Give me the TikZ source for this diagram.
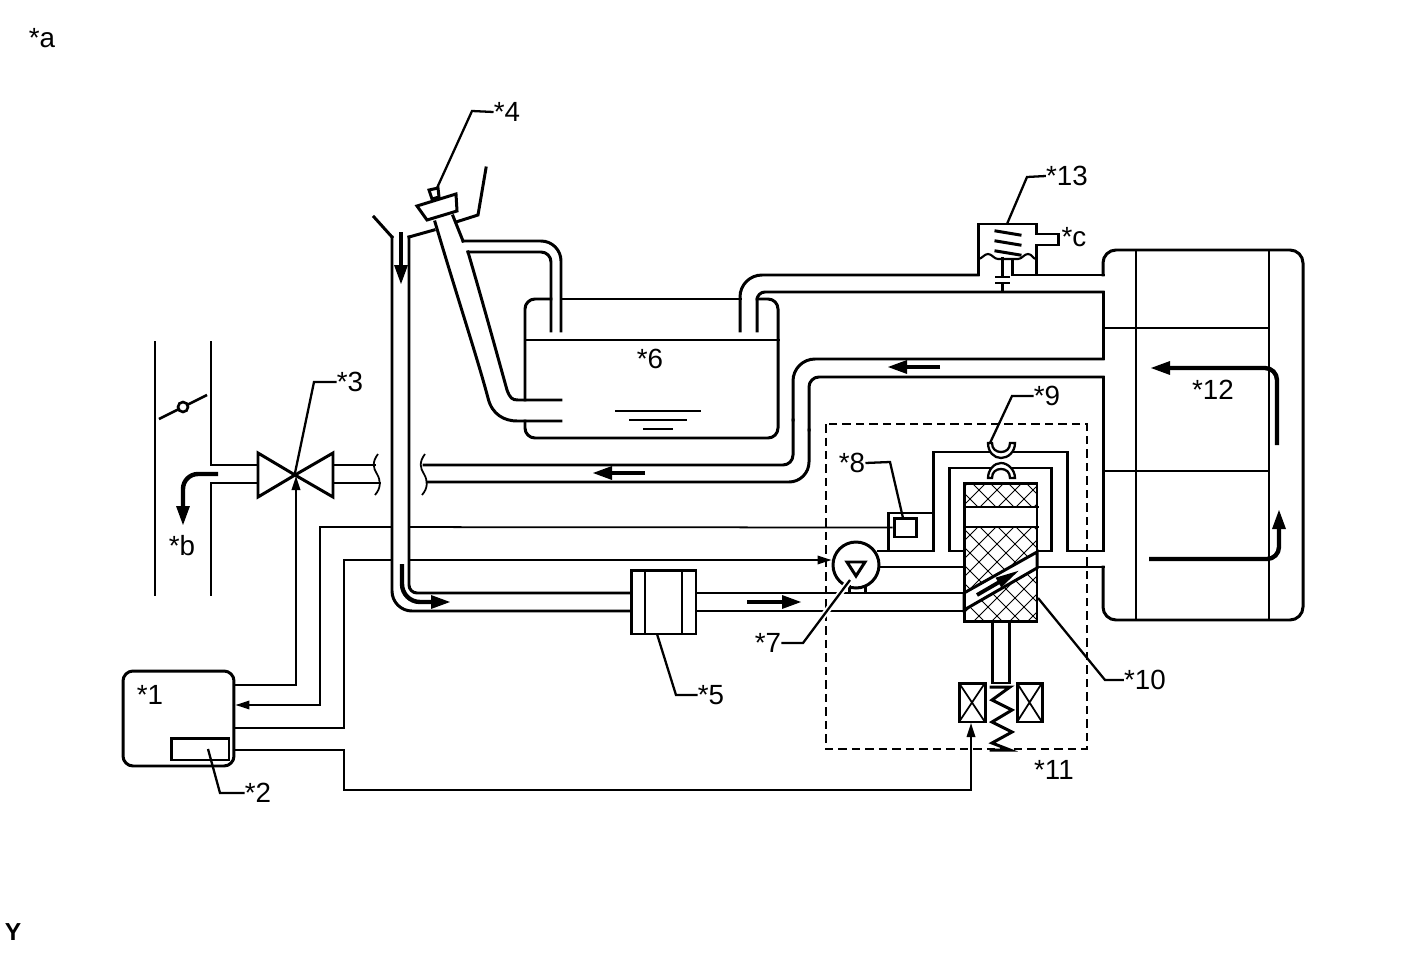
\documentclass[tikz,border=0pt]{standalone}
\usepackage{fontspec}
\setmainfont{Liberation Sans}
\usetikzlibrary{arrows.meta,positioning}

\begin{document}
\begin{tikzpicture}[
    x=0.02cm, y=-0.02cm,
    pipe/.style={line width=1.7pt, line cap=rect},
    thinline/.style={line width=1pt},
    signal/.style={line width=1pt, -{Triangle[length=0.28cm,width=0.17cm]}},
    leader/.style={line width=1.3pt},
    flow/.style={line width=2.5pt, -{Triangle[length=0.4cm,width=0.25cm]}},
    hatchline/.style={line width=0.5pt},
    tag/.style={font=\fontsize{15.8}{18}\selectfont, inner sep=0pt},
    box/.style={draw, line width=1.7pt, inner sep=0pt}
]
    \useasboundingbox (0,0) rectangle (1424,960);

    % Sheet marks
    \node[tag] (sheet) at (42,38) {*a};
    \node[font=\fontsize{14}{16}\selectfont\bfseries, inner sep=0pt] (mark) at (13,932) {Y};

    % Control unit and parts with signal lines
    \node[box, rounded corners=0.2cm, minimum width=2.22cm, minimum height=1.9cm] (ecu) at (178.5,718.5) {};
    \node[box, minimum width=1.16cm, minimum height=0.44cm] (memory) at (200,749) {};
    \node[box, minimum width=0.44cm, minimum height=0.38cm] (sensor) at (905,527.5) {};
    \node[box, circle, minimum size=0.92cm] (pump) at (856,565) {};
    \coordinate (valve) at (296,476);
    \coordinate (coil) at (971,723);

    % Signal lines
    \draw[signal] (ecu.east |- 0,685) -- (296,685) -- (valve);
    \draw[signal] (sensor.west) -- (320,527) -- (320,705) -- (ecu.east |- 0,705);
    \draw[signal] (ecu.east |- 0,728) -- (344,728) -- (344,560) -- (pump.west |- 0,560);
    \draw[signal] (ecu.east |- 0,750) -- (344,750) -- (344,790) -- (971,790) -- (coil);
    \fill[white] (393,500) rectangle (408,585);

    % Intake passage, throttle and purge valve
    \draw[pipe] (155,342) -- (155,595);
    \draw[pipe] (211,342) -- (211,465) -- (258,465);
    \draw[pipe] (211,595) -- (211,483) -- (258,483);
    \draw[line width=1.5pt] (159,419) -- (207,395);
    \node[circle, draw, fill=white, line width=1.5pt, minimum size=0.2cm, inner sep=0pt] (plate) at (183,407) {};
    \draw[pipe] (258,453) -- (258,497) -- (295,475) -- cycle;
    \draw[pipe] (333,453) -- (333,497) -- (295,475) -- cycle;
    \draw[pipe] (333,465) -- (375,465);
    \draw[pipe] (333,483) -- (380,483);
    \draw[thinline] (378,454) .. controls (372,462) and (373,468) .. (377,474) .. controls (381,481) and (381,488) .. (375,495);
    \draw[thinline] (425,454) .. controls (419,462) and (420,468) .. (424,474) .. controls (428,481) and (428,488) .. (422,495);

    % Main fuel pipe and filter
    \draw[pipe] (374,217) -- (392,237);
    \draw[pipe, rounded corners=0.4cm] (392,237) -- (392,611) -- (631,611);
    \draw[pipe, rounded corners=0.16cm] (409,237) -- (409,593) -- (631,593);
    \node[box, minimum width=1.3cm, minimum height=1.28cm] (filter) at (663.5,602) {};
    \draw[thinline] (645,570) -- (645,634);
    \draw[thinline] (682,570) -- (682,634);
    \draw[pipe] (696,593) -- (964,593);
    \draw[pipe] (696,611) -- (964,611);
    \draw[pipe] (849,586) -- (849,593);
    \draw[pipe] (865,586) -- (865,593);

    % Filler neck and cap
    \draw[pipe] (409,237) -- (434,230);
    \draw[pipe] (456,222) -- (478,215) -- (486,168);
    \draw[pipe] (435,222) .. controls (455,290) and (478,360) .. (488,398) .. controls (492,415) and (505,421) .. (517,421) -- (561,421);
    \draw[pipe] (468,252) .. controls (485,310) and (500,365) .. (507,390) .. controls (510,398) and (512,400) .. (518,400) -- (561,400);
    \draw[pipe] (453,216) -- (463,241);
    \draw[pipe, rounded corners=0.4cm] (463,241) -- (561,241) -- (561,331);
    \draw[pipe, rounded corners=0.2cm] (468,252) -- (551,252) -- (551,331);
    \draw[pipe, fill=white] (417,206) -- (456,194) -- (457,211) -- (427,220) -- cycle;
    \draw[pipe, fill=white] (429,190) -- (438,188) -- (439,197) -- (432,199) -- cycle;

    % Tank
    \draw[pipe, rounded corners=0.2cm] (525,400) -- (525,299) -- (551,299);
    \draw[pipe] (561,299) -- (740,299);
    \draw[pipe, rounded corners=0.2cm] (757,299) -- (778,299) -- (778,438) -- (525,438) -- (525,421);
    \draw[pipe] (525,340) -- (778,340);
    \draw[thinline] (615,411) -- (701,411);
    \draw[thinline] (629,420) -- (687,420);
    \draw[thinline] (643,429) -- (673,429);

    % Pipes to the tank and canister
    \draw[pipe, rounded corners=0.44cm] (740,331) -- (740,275) -- (978,275);
    \draw[pipe, rounded corners=0.16cm] (757,331) -- (757,292) -- (1103,292);
    \draw[pipe] (1103,292) -- (1103,359);
    \draw[pipe, rounded corners=0.2cm] (424,465) -- (793,465) -- (793,420);
    \draw[pipe, rounded corners=0.44cm] (793,420) -- (793,359) -- (1103,359);
    \draw[pipe, rounded corners=0.4cm] (428,482) -- (809,482) -- (809,430);
    \draw[pipe, rounded corners=0.2cm] (809,430) -- (809,377) -- (1103,377);

    % Canister
    \draw[pipe, rounded corners=0.26cm] (1103,275) -- (1103,250) -- (1303,250) -- (1303,620) -- (1103,620) -- (1103,567);
    \draw[pipe] (1012,260) -- (1012,275) -- (1103,275);
    \draw[pipe] (1103,567) -- (1037,567);
    \draw[thinline] (1136,250) -- (1136,620);
    \draw[thinline] (1269,250) -- (1269,620);
    \draw[line width=1.3pt] (1103,328) -- (1270,328);
    \draw[line width=1.3pt] (1103,471) -- (1270,471);

    % Vent valve on top of the pipe
    \draw[pipe] (978,275) -- (978,224) -- (1036,224) -- (1036,234) -- (1058,234) -- (1058,245) -- (1036,245) -- (1036,275);
    \draw[line width=1.2pt] (978,259) .. controls (982,259) and (984,254) .. (988,254) .. controls (992,254) and (994,259) .. (998,259) -- (1018,259) .. controls (1022,259) and (1024,254) .. (1028,254) .. controls (1032,254) and (1033,259) .. (1036,259);
    \draw[pipe] (996,231) -- (1020,235);
    \draw[pipe] (996,241) -- (1020,245);
    \draw[pipe] (996,251) -- (1020,255);
    \draw[pipe] (1002,258) -- (1002,277);
    \draw[pipe] (996,277) -- (1008,277);
    \draw[pipe] (996,283) -- (1008,283);
    \draw[pipe] (1002,283) -- (1002,292);

    % Pipes round the pressure control valve
    \draw[pipe] (1103,377) -- (1103,551) -- (1067,551) -- (1067,452) -- (933,452) -- (933,551) -- (878,551);
    \draw[pipe] (888,551) -- (888,513) -- (933,513);
    \draw[pipe] (964,551) -- (949,551) -- (949,468) -- (1051,468) -- (1051,551) -- (1037,551);
    \draw[pipe] (pump.east |- 0,567) -- (964,567);

    % Spool with hatching
    \begin{scope}
        \clip (964,483) rectangle (1037,507);
        \foreach \k in {0,...,13} {
            \draw[hatchline] (810+\k*18,483) -- (950+\k*18,623);
            \draw[hatchline] (810+\k*18,623) -- (950+\k*18,483);
        }
    \end{scope}
    \begin{scope}
        \clip (964,527) rectangle (1037,622);
        \foreach \k in {0,...,13} {
            \draw[hatchline] (810+\k*18,483) -- (950+\k*18,623);
            \draw[hatchline] (810+\k*18,623) -- (950+\k*18,483);
        }
    \end{scope}
    \draw[pipe, fill=white] (964,593) -- (1037,552) -- (1037,568) -- (964,610) -- cycle;
    \node[box, minimum width=1.46cm, minimum height=2.78cm] (spool) at (1000.5,552.5) {};
    \draw[pipe] (964,507) -- (1037,507);
    \draw[pipe] (964,527) -- (1037,527);

    % Solenoid and spring
    \draw[pipe] (992,622) -- (992,683) -- (1009,683) -- (1009,622);
    \node[box, minimum width=0.52cm, minimum height=0.78cm] (coilleft) at (972,702.5) {};
    \node[box, minimum width=0.5cm, minimum height=0.78cm] (coilright) at (1029.5,702.5) {};
    \draw[thinline] (959,683) -- (985,722) (959,722) -- (985,683);
    \draw[thinline] (1017,683) -- (1042,722) (1017,722) -- (1042,683);
    \draw[pipe] (991,687) -- (1010,687) -- (992,700) -- (1012,710) -- (992,722) -- (1012,732) -- (992,743) -- (1010,750) -- (991,750);

    % Inner triangle of the pump
    \draw[pipe] (847,562) -- (865,562) -- (856,576) -- cycle;

    % Orifice
    \draw[line width=1.3pt, fill=white] (988,443) .. controls (988,452) and (994,458) .. (1001,458) .. controls (1008,458) and (1015,452) .. (1015,443) -- (1010,443) .. controls (1010,449) and (1006,452) .. (1001,452) .. controls (996,452) and (992,449) .. (992,443) -- cycle;
    \draw[line width=1.3pt, fill=white] (988,478) .. controls (988,470) and (994,463) .. (1001,463) .. controls (1008,463) and (1015,470) .. (1015,478) -- (1010,478) .. controls (1010,472) and (1006,469) .. (1001,469) .. controls (996,469) and (992,472) .. (992,478) -- cycle;

    % Dashed box
    \draw[line width=1.5pt, dash pattern=on 0.17cm off 0.1cm] (826,424) rectangle (1087,749);

    % Flow arrows
    \draw[flow] (401,232) -- (401,285);
    \draw[flow, rounded corners=0.36cm] (402,564) -- (402,602) -- (451,602);
    \draw[flow] (747,602) -- (802,602);
    \draw[flow] (645,473) -- (592,473);
    \draw[flow] (940,367) -- (887,367);
    \draw[flow, rounded corners=0.3cm] (218,474) -- (183,474) -- (183,526);
    \draw[line width=2.2pt, -{Triangle[length=0.5cm,width=0.2cm]}] (977,595) -- (1020,570);
    \draw[flow, rounded corners=0.24cm] (1277,445) -- (1277,368) -- (1150,368);
    \draw[flow, rounded corners=0.24cm] (1149,559) -- (1279,559) -- (1279,509);

    % Labels
    \node[tag] (lab1) at (150,695) {*1};
    \node[tag] (lab2) at (258,793) {*2};
    \node[tag] (lab3) at (350,382) {*3};
    \node[tag] (lab4) at (507,112) {*4};
    \node[tag] (lab5) at (711,695) {*5};
    \node[tag] (lab6) at (650,359) {*6};
    \node[tag] (lab7) at (768,643) {*7};
    \node[tag] (lab8) at (852,463) {*8};
    \node[tag] (lab9) at (1047,396) {*9};
    \node[tag] (lab10) at (1145,680) {*10};
    \node[tag] (lab11) at (1054,770) {*11};
    \node[tag] (lab12) at (1213,390) {*12};
    \node[tag] (lab13) at (1067,176) {*13};
    \node[tag] (labb) at (182,546) {*b};
    \node[tag] (labc) at (1074,237) {*c};

    % Leaders
    \draw[leader] (lab2.west) -- (220,793) -- (208,749);
    \draw[leader] (lab3.west) -- (314,382) -- (295,473);
    \draw[leader] (lab4.west) -- (472,111) -- (437,188);
    \draw[leader] (lab5.west) -- (676,695) -- (657,634);
    \draw[white, line width=3.5pt] (803,643) -- (850,580);
    \draw[leader] (lab7.east) -- (803,643) -- (850,580);
    \draw[leader] (lab8.east) -- (890,462) -- (903,518);
    \draw[leader] (lab9.west) -- (1012,396) -- (990,443);
    \draw[leader] (lab10.west) -- (1105,680) -- (1038,598);
    \draw[leader] (lab13.west) -- (1027,177) -- (1007,224);
\end{tikzpicture}
\end{document}
